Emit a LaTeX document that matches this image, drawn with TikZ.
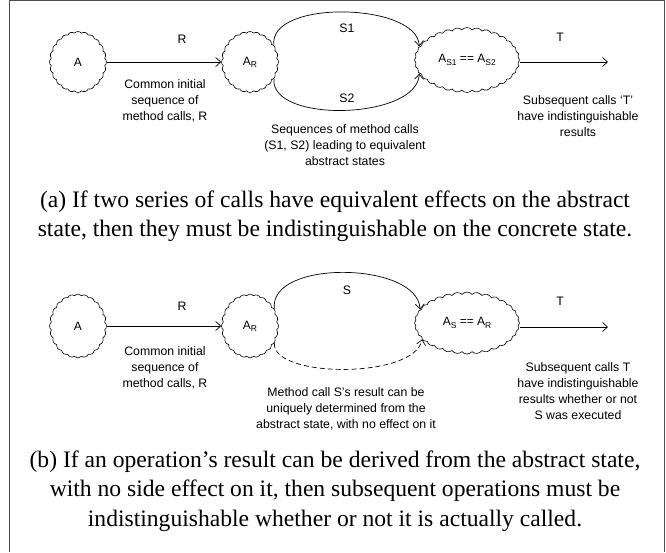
\documentclass[tikz,border=0pt]{standalone}
\usepackage{fontspec}
\setmainfont{Liberation Serif}
\newfontfamily\lsans{Liberation Sans}
\usetikzlibrary{shapes.symbols,arrows.meta}
\newcommand\sbx[1]{\raisebox{-0.35ex}{\fontsize{8.5}{9}\selectfont #1}}
\begin{document}
\begin{tikzpicture}[x=1pt,y=-1pt,
  cl/.style={cloud, cloud ignores aspect, cloud puffs=24, cloud puff arc=100, draw, line width=0.6pt, inner sep=0pt,
    minimum width=57pt, minimum height=61pt, font=\lsans\fontsize{12}{14}\selectfont},
  wcl/.style={cl, minimum width=105pt, minimum height=65pt, cloud puffs=32},
  lab/.style={font=\lsans\fontsize{12.3}{16}\selectfont, align=center, inner sep=0pt},
  captxt/.style={font=\fontsize{23.6}{29.5}\selectfont, align=center, inner sep=0pt},
  arr/.style={-{Straight Barb[length=5pt,width=9pt]}, line width=0.7pt},
  dsh/.style={arr, dash pattern=on 5pt off 3pt}
]
\useasboundingbox (0,0) rectangle (666,552);
\draw[gray!60!black, line width=1pt] (9,552) -- (9,0.5) -- (664,0.5) -- (664,552);

% ---------- (a) ----------
\node[cl] (A1) at (78,62) {A};
\node[cl] (R1) at (250,62) {A\sbx{R}};
\node[wcl] (S1n) at (467,60) {A\sbx{S1} == A\sbx{S2}};
\coordinate (T1) at (608,62);
\draw[arr] (A1) -- (R1);
\draw[arr] (S1n.east |- T1) -- (T1);
\draw[arr] (R1.35) .. controls +(-6,-46) and +(-2,-44) .. (S1n.164);
\draw[arr] (R1.-35) .. controls +(-4,45) and +(-2,46) .. (S1n.-164);
\node[lab] (lR1) at (182,39) {R};
\node[lab] (lS1) at (347,28) {S1};
\node[lab] (lS2) at (347,98) {S2};
\node[lab] (lT1) at (560,37) {T};
\node[lab] (c1) at (165,101) {Common initial\\sequence of\\method calls, R};
\node[lab] (c2) at (345,145) {Sequences of method calls\\(S1, S2) leading to equivalent\\abstract states};
\node[lab] (c3) at (578,116) {Subsequent calls ‘T’\\have indistinguishable\\results};
\node[captxt] (capa) at (335,216) {(a) If two series of calls have equivalent effects on the abstract\\state, then they must be indistinguishable on the concrete state.};

% ---------- (b) ----------
\node[cl, minimum height=64pt] (A2) at (78,326) {A};
\node[cl, minimum height=64pt] (R2) at (250,326) {A\sbx{R}};
\node[wcl, minimum height=62pt] (S2n) at (467,323) {A\sbx{S} == A\sbx{R}};
\coordinate (T2) at (608,327);
\draw[arr] (A2) -- (R2);
\draw[arr] (S2n.east |- T2) -- (T2);
\draw[arr] (R2.35) .. controls +(-6,-50) and +(-2,-48) .. (S2n.164);
\draw[dsh] (R2.-35) .. controls +(-3,35) and +(-8,40) .. (S2n.-160);
\node[lab] (lR2) at (182,306) {R};
\node[lab] (lS) at (347,290) {S};
\node[lab] (lT2) at (560,301) {T};
\node[lab] (d1) at (165,368) {Common initial\\sequence of\\method calls, R};
\node[lab] (d2) at (346,409) {Method call S’s result can be\\uniquely determined from the\\abstract state, with no effect on it};
\node[lab] (d3) at (578,391) {Subsequent calls T\\have indistinguishable\\results whether or not\\S was executed};
\node[captxt] (capb) at (335,491) {(b) If an operation’s result can be derived from the abstract state,\\with no side effect on it, then subsequent operations must be\\indistinguishable whether or not it is actually called.};
\end{tikzpicture}
\end{document}
